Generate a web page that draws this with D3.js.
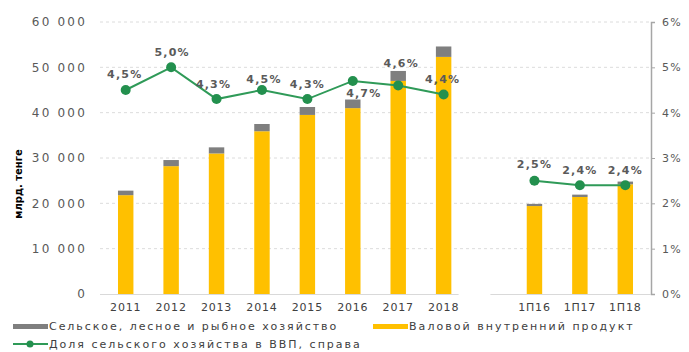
<!DOCTYPE html>
<html>
<head>
<meta charset="utf-8">
<script src="https://cdn.jsdelivr.net/npm/d3@7"></script>
<style>
  body { margin: 0; background: #fff; }
  text { font-family: "DejaVu Sans", Verdana, sans-serif; }
</style>
</head>
<body>
<div id="chart"></div>
<script>
// data
var categories = ["2011", "2012", "2013", "2014", "2015", "2016", "2017", "2018", "gap", "1П16", "1П17", "1П18"];
var gdp = [21800, 28200, 31000, 35900, 39500, 41000, 47000, 52300, null, 19400, 21400, 24200];
var agri = [1000, 1350, 1350, 1600, 1750, 1900, 2200, 2300, null, 480, 520, 600];
var share = [4.5, 5.0, 4.3, 4.5, 4.3, 4.7, 4.6, 4.4, null, 2.5, 2.4, 2.4];
var shareLabels = ["4,5%", "5,0%", "4,3%", "4,5%", "4,3%", "4,7%", "4,6%", "4,4%", "", "2,5%", "2,4%", "2,4%"];
var leftTicks = [0, 10000, 20000, 30000, 40000, 50000, 60000];
var rightTicks = [0, 1, 2, 3, 4, 5, 6];

// set the dimensions and margins of the graph
var margin = {top: 22, right: 41, bottom: 58, left: 103},
    width = 689 - margin.left - margin.right,
    height = 352 - margin.top - margin.bottom;

var x = d3.scaleBand().domain(categories).range([0, width]).paddingInner(0.66).paddingOuter(0.33);
var y = d3.scaleLinear().domain([0, 60000]).range([height, 0]);
var y2 = d3.scaleLinear().domain([0, 6]).range([height, 0]);

var svg = d3.select("#chart").append("svg")
    .attr("width", 689)
    .attr("height", 352);
var g = svg.append("g")
    .attr("transform", "translate(" + margin.left + "," + margin.top + ")");

// gridlines
g.selectAll(".grid").data(leftTicks.slice(1)).enter().append("line")
    .attr("x1", -3).attr("x2", width + 3)
    .attr("y1", function(d) { return y(d); }).attr("y2", function(d) { return y(d); })
    .attr("stroke", "#dcdcdc").attr("stroke-width", 1).attr("stroke-dasharray", "3,3");

// left axis labels
var yAxis = g.append("g").attr("transform", "translate(-13,0)")
    .call(d3.axisLeft(y).tickValues(leftTicks).tickSize(0)
        .tickFormat(function(d) { return d3.format(",")(d).replace(/,/g, " "); }));
yAxis.select(".domain").remove();
yAxis.selectAll("text").attr("font-size", 12).attr("fill", "#595959")
    .attr("font-family", "DejaVu Sans").style("letter-spacing", "2.2px");

// right axis
var y2Axis = g.append("g").attr("transform", "translate(" + (width + 3) + ",0)")
    .call(d3.axisRight(y2).tickValues(rightTicks).tickSize(4).tickPadding(7)
        .tickFormat(function(d) { return d + "%"; }));
y2Axis.select(".domain").attr("stroke", "#a6a6a6").attr("stroke-width", 1.5);
y2Axis.selectAll(".tick line").attr("stroke", "#a6a6a6");
y2Axis.selectAll("text").attr("font-size", 11).attr("fill", "#595959")
    .attr("font-family", "DejaVu Sans").style("letter-spacing", "1.2px");

// bars: gdp + agriculture stacked on top
var barData = categories.map(function(c, i) { return {c: c, gdp: gdp[i], agri: agri[i]}; })
    .filter(function(d) { return d.gdp != null; });

g.selectAll(".bar_gdp").data(barData).enter().append("rect")
    .attr("x", function(d) { return x(d.c); })
    .attr("width", x.bandwidth())
    .attr("y", function(d) { return y(d.gdp); })
    .attr("height", function(d) { return height - y(d.gdp); })
    .attr("fill", "#ffc000");

g.selectAll(".bar_agri").data(barData).enter().append("rect")
    .attr("x", function(d) { return x(d.c); })
    .attr("width", x.bandwidth())
    .attr("y", function(d) { return y(d.gdp + d.agri); })
    .attr("height", function(d) { return y(d.gdp) - y(d.gdp + d.agri); })
    .attr("fill", "#7f7f7f");

// x axis baseline, broken at the gap
var groups = [categories.slice(0, 8), categories.slice(9)];
groups.forEach(function(grp, k) {
  var x0 = k === 0 ? -3 : x(grp[0]) - x.step() * 0.8;
  var x1 = k === 0 ? x(grp[grp.length - 1]) + x.step() * 0.5 : width + 3;
  g.append("line").attr("x1", x0).attr("x2", x1)
      .attr("y1", height + 0.5).attr("y2", height + 0.5)
      .attr("stroke", "#d9d9d9").attr("stroke-width", 1);
});

g.selectAll(".xlab").data(categories.filter(function(c) { return c !== "gap"; })).enter().append("text")
    .attr("x", function(d) { return x(d) + x.bandwidth() / 2; })
    .attr("y", height + 17)
    .attr("text-anchor", "middle")
    .attr("font-size", 11).attr("fill", "#404040")
    .style("letter-spacing", "0.8px")
    .text(function(d) { return d; });

// share line
var pts = categories.map(function(c, i) { return {c: c, v: share[i], lab: shareLabels[i], i: i}; })
    .filter(function(d) { return d.v != null; });
var line = d3.line()
    .x(function(d) { return x(d.c) + x.bandwidth() / 2; })
    .y(function(d) { return y2(d.v); });

[pts.slice(0, 8), pts.slice(8)].forEach(function(seg) {
  g.append("path").datum(seg)
      .attr("d", line)
      .attr("fill", "none").attr("stroke", "#2f9a58").attr("stroke-width", 2);
});

g.selectAll(".dot").data(pts).enter().append("circle")
    .attr("cx", function(d) { return x(d.c) + x.bandwidth() / 2; })
    .attr("cy", function(d) { return y2(d.v); })
    .attr("r", 5)
    .attr("fill", "#23904e");

// label offsets relative to the points (dx, dy)
var labelOff = [[-1, -12], [1, -11], [-3, -11], [2, -7], [0, -11], [11, 16], [3, -18], [-1, -12], null, [0, -13], [0, -11], [0, -11]];
g.selectAll(".lab").data(pts).enter().append("text")
    .attr("x", function(d) { return x(d.c) + x.bandwidth() / 2 + labelOff[d.i][0]; })
    .attr("y", function(d) { return y2(d.v) + labelOff[d.i][1]; })
    .attr("text-anchor", "middle")
    .attr("font-size", 11).attr("font-weight", "bold").attr("fill", "#5a5a5a")
    .style("letter-spacing", "1.2px")
    .text(function(d) { return d.lab; });

// y axis title
svg.append("text")
    .attr("transform", "translate(22,184) rotate(-90)")
    .attr("text-anchor", "middle")
    .attr("font-size", 10).attr("font-weight", "bold").attr("fill", "#000")
    .text("млрд. тенге");

// legend
var leg = svg.append("g");
leg.append("rect").attr("x", 13).attr("y", 324).attr("width", 35).attr("height", 5).attr("fill", "#7f7f7f");
leg.append("text").attr("x", 49).attr("y", 330).attr("font-size", 11).attr("fill", "#404040")
    .style("letter-spacing", "1.95px").text("Сельское, лесное и рыбное хозяйство");
leg.append("rect").attr("x", 373).attr("y", 324).attr("width", 35).attr("height", 5).attr("fill", "#ffc000");
leg.append("text").attr("x", 409).attr("y", 330).attr("font-size", 11).attr("fill", "#404040")
    .style("letter-spacing", "2.05px").text("Валовой внутренний продукт");
leg.append("line").attr("x1", 13).attr("x2", 48).attr("y1", 344).attr("y2", 344)
    .attr("stroke", "#2f9a58").attr("stroke-width", 2);
leg.append("circle").attr("cx", 30).attr("cy", 344).attr("r", 3.5).attr("fill", "#23904e");
leg.append("text").attr("x", 49).attr("y", 348).attr("font-size", 11).attr("fill", "#404040")
    .style("letter-spacing", "2px").text("Доля сельского хозяйства в ВВП, справа");
</script>
</body>
</html>
